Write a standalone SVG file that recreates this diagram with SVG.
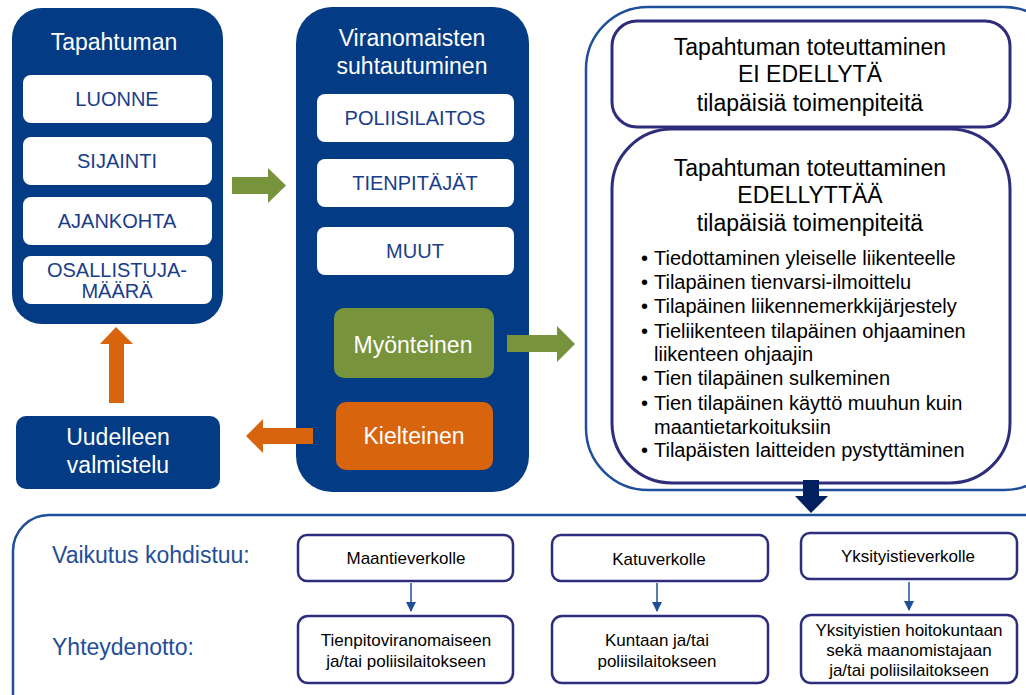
<svg xmlns="http://www.w3.org/2000/svg" width="1026" height="695" viewBox="0 0 1026 695">
<defs>
<style>
text{font-family:"Liberation Sans",Arial,sans-serif;}
.navy{fill:#033b84;}
.wbox{fill:#ffffff;}
.wt{fill:#fff;font-size:23px;text-anchor:middle;}
.bt{fill:#1a3d8a;font-size:20px;text-anchor:middle;}
.blk{fill:#000;font-size:23px;text-anchor:middle;}
.bul{fill:#000;font-size:20px;}
.inner{fill:#fff;stroke:#2e2d7c;stroke-width:3;}
.sm{fill:#fff;stroke:#2e2d7c;stroke-width:2.5;}
.st{fill:#000;font-size:17px;text-anchor:middle;}
.lab{fill:#1f4e9a;font-size:23px;}
</style>
<marker id="ah" viewBox="0 0 10 10" refX="9" refY="5" markerWidth="10" markerHeight="10" markerUnits="userSpaceOnUse" orient="auto">
<path d="M0,0 L10,5 L0,10 z" fill="#1f4e9a"/>
</marker>
</defs>
<rect width="1026" height="695" fill="#fff"/>

<g id="tapahtuman">
<rect x="12" y="8" width="211" height="316" rx="30" class="navy"/>
<text x="114" y="50" class="wt">Tapahtuman</text>
<rect x="23" y="75" width="189" height="48" rx="8" class="wbox"/>
<text x="117" y="106" class="bt">LUONNE</text>
<rect x="23" y="137" width="189" height="48" rx="8" class="wbox"/>
<text x="117" y="168" class="bt">SIJAINTI</text>
<rect x="23" y="197" width="189" height="48" rx="8" class="wbox"/>
<text x="117" y="228" class="bt">AJANKOHTA</text>
<rect x="23" y="256" width="189" height="48" rx="8" class="wbox"/>
<text x="117" y="277" class="bt">OSALLISTUJA-</text>
<text x="117" y="298" class="bt">MÄÄRÄ</text>
</g>

<g id="viranomaisten">
<rect x="296" y="7" width="233" height="485" rx="36" class="navy"/>
<text x="412" y="46" class="wt">Viranomaisten</text>
<text x="412" y="74" class="wt">suhtautuminen</text>
<rect x="317" y="94" width="197" height="48" rx="8" class="wbox"/>
<text x="415" y="125" class="bt">POLIISILAITOS</text>
<rect x="317" y="159" width="197" height="48" rx="8" class="wbox"/>
<text x="415" y="190" class="bt">TIENPITÄJÄT</text>
<rect x="317" y="227" width="197" height="48" rx="8" class="wbox"/>
<text x="415" y="258" class="bt">MUUT</text>
</g>

<g id="myonteinen">
<rect x="334" y="308" width="160" height="70" rx="10" fill="#77933c"/>
<text x="413" y="353" class="wt">Myönteinen</text>
</g>

<g id="kielteinen">
<rect x="336" y="402" width="157" height="68" rx="10" fill="#d9640e"/>
<text x="414" y="444" class="wt">Kielteinen</text>
</g>

<g id="uudelleen">
<rect x="16" y="416" width="204" height="73" rx="10" class="navy"/>
<text x="118" y="445" class="wt">Uudelleen</text>
<text x="118" y="473" class="wt">valmistelu</text>
</g>

<g id="toteuttaminen">
<rect x="586" y="7" width="480" height="483" rx="62" fill="#fff" stroke="#1f4e9a" stroke-width="2.5"/>
<rect x="612" y="21" width="398" height="106" rx="25" class="inner"/>
<text x="810" y="55" class="blk">Tapahtuman toteuttaminen</text>
<text x="810" y="82" class="blk">EI EDELLYTÄ</text>
<text x="810" y="111" class="blk">tilapäisiä toimenpiteitä</text>
<rect x="612" y="129" width="398" height="354" rx="60" class="inner"/>
<text x="810" y="176" class="blk">Tapahtuman toteuttaminen</text>
<text x="810" y="203" class="blk">EDELLYTTÄÄ</text>
<text x="810" y="231" class="blk">tilapäisiä toimenpiteitä</text>
<g class="bul">
<text x="641" y="265">•</text><text x="654" y="265">Tiedottaminen yleiselle liikenteelle</text>
<text x="641" y="289">•</text><text x="654" y="289">Tilapäinen tienvarsi-ilmoittelu</text>
<text x="641" y="313">•</text><text x="654" y="313">Tilapäinen liikennemerkkijärjestely</text>
<text x="641" y="338">•</text><text x="654" y="338">Tieliikenteen tilapäinen ohjaaminen</text>
<text x="654" y="361">liikenteen ohjaajin</text>
<text x="641" y="385">•</text><text x="654" y="385">Tien tilapäinen sulkeminen</text>
<text x="641" y="410">•</text><text x="654" y="410">Tien tilapäinen käyttö muuhun kuin</text>
<text x="654" y="434">maantietarkoituksiin</text>
<text x="641" y="457">•</text><text x="654" y="457">Tilapäisten laitteiden pystyttäminen</text>
</g>
</g>

<g id="vaikutus">
<rect x="13" y="515" width="1050" height="220" rx="36" fill="#fff" stroke="#1f4e9a" stroke-width="2.5"/>
<text x="52" y="563" class="lab">Vaikutus kohdistuu:</text>
<text x="52" y="655" class="lab">Yhteydenotto:</text>
</g>

<g id="maantieverkolle">
<rect x="298" y="535" width="215" height="46" rx="9" class="sm"/>
<text x="406" y="564" class="st">Maantieverkolle</text>
</g>
<g id="katuverkolle">
<rect x="552" y="535" width="216" height="46" rx="9" class="sm"/>
<text x="659" y="565" class="st">Katuverkolle</text>
</g>
<g id="yksityistieverkolle">
<rect x="801" y="533" width="216" height="46" rx="9" class="sm"/>
<text x="908" y="562" class="st">Yksityistieverkolle</text>
</g>
<g id="tienpito">
<rect x="298" y="616" width="215" height="67" rx="10" class="sm"/>
<text x="406" y="646" class="st">Tienpitoviranomaiseen</text>
<text x="406" y="667" class="st">ja/tai poliisilaitokseen</text>
</g>
<g id="kuntaan">
<rect x="552" y="616" width="216" height="67" rx="10" class="sm"/>
<text x="657" y="646" class="st">Kuntaan ja/tai</text>
<text x="657" y="667" class="st">poliisilaitokseen</text>
</g>
<g id="yksityistien">
<rect x="801" y="615" width="216" height="68" rx="10" class="sm"/>
<text x="909" y="636" class="st">Yksityistien hoitokuntaan</text>
<text x="909" y="656" class="st">sekä maanomistajaan</text>
<text x="909" y="676" class="st">ja/tai poliisilaitokseen</text>
</g>

<g id="connectors">
<path d="M232,177 H268 V168 L286,185.5 L268,203 V194 H232 Z" fill="#77933c"/>
<path d="M507,335 H557 V326 L575,344 L557,362 V352 H507 Z" fill="#77933c"/>
<path d="M313,428 H263 V419 L246,436 L263,453 V444 H313 Z" fill="#d9640e"/>
<path d="M109,403 V344 H100 L116,327 L133,344 H124 V403 Z" fill="#d9640e"/>
<path d="M803,480 H819 V496 H828 L811,513 L795,496 H803 Z" fill="#002060"/>
<line x1="411" y1="583" x2="411" y2="611" stroke="#1f4e9a" stroke-width="1.5" marker-end="url(#ah)"/>
<line x1="657" y1="583" x2="657" y2="611" stroke="#1f4e9a" stroke-width="1.5" marker-end="url(#ah)"/>
<line x1="909" y1="582" x2="909" y2="610" stroke="#1f4e9a" stroke-width="1.5" marker-end="url(#ah)"/>
</g>
</svg>
